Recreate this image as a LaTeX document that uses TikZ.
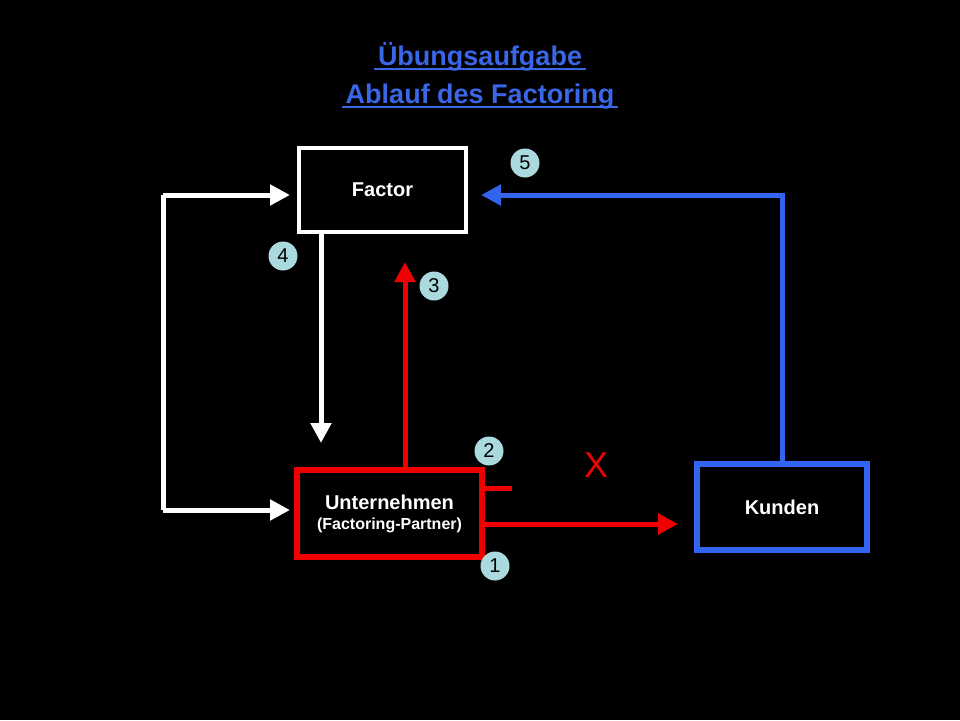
\documentclass[tikz,border=0pt]{standalone}
\usepackage{fontspec}
\setmainfont{Liberation Sans}
\usetikzlibrary{arrows.meta}
\definecolor{titleblue}{RGB}{58,102,232}
\definecolor{lineblue}{RGB}{50,100,240}
\definecolor{markred}{RGB}{240,0,0}
\definecolor{badge}{RGB}{170,218,222}
\tikzset{
  box/.style={draw, minimum width=#1, inner sep=0pt, font=\bfseries\fontsize{20}{22}\selectfont, text=white, align=center},
  flow/.style={line width=5pt, -{Triangle[length=20pt, width=20pt]}},
  heading/.style={text=titleblue, font=\bfseries\fontsize{27}{30}\selectfont},
  num/.style={circle, fill=badge, minimum size=29pt, inner sep=0pt, font=\fontsize{20}{20}\selectfont}
}
\begin{document}
\begin{tikzpicture}[x=1pt,y=-1pt]
  \fill[black] (0,0) rectangle (960,720);
  \useasboundingbox (0,0) rectangle (960,720);
  % title
  \node[heading] (title1) at (480,57) {Übungsaufgabe};
  \node[heading] (title2) at (480,97) {Ablauf des Factoring};
  \draw[titleblue, line width=2pt] ([yshift=-3pt]title1.base west) -- ([yshift=-3pt]title1.base east);
  \draw[titleblue, line width=2pt] ([yshift=-3pt]title2.base west) -- ([yshift=-3pt]title2.base east);
  % boxes
  \node[box=167pt, minimum height=84pt, line width=4pt, white] (factor) at (382.5,190) {\textcolor{white}{Factor}};
  \node[box=185pt, minimum height=87pt, line width=6pt, markred] (firma) at (389.5,513.5)
    {\textcolor{white}{Unternehmen}\\[-2pt]\textcolor{white}{\fontsize{16}{18}\selectfont(Factoring-Partner)}};
  \node[box=170pt, minimum height=86pt, line width=6pt, lineblue] (kunden) at (782,507) {\textcolor{white}{Kunden}};
  % connectors
  \coordinate (f4) at (321,443);
  \coordinate (f3) at (405,262);
  \coordinate (kTop) at (782,195);
  \coordinate (kEnd) at (481,195);
  \coordinate (lTop) at (163,195);
  \coordinate (lBot) at (163,510);
  \coordinate (wTop) at (290,195);
  \coordinate (wBot) at (290,510);
  \coordinate (redStub) at (512,488);
  \draw[flow, white] (factor.south -| f4) -- (f4);
  \draw[flow, markred] (firma.north -| f3) -- (f3);
  \draw[flow, lineblue] (kunden.north) -- (kTop) -- (kEnd);
  \draw[line width=5pt, white] (lTop) -- (lBot);
  \draw[flow, white] (lTop) -- (wTop);
  \draw[flow, white] (lBot) -- (wBot);
  \draw[flow, markred] (firma.east |- 0,524) -- (678,524);
  \draw[line width=5pt, markred] (firma.east |- redStub) -- (redStub);
  \node[text=markred, font=\fontsize{36}{36}\selectfont] (cross) at (596,465) {X};
  % badges
  \node[num] (n5) at (525,163) {5};
  \node[num] (n4) at (283,256) {4};
  \node[num] (n3) at (434,286) {3};
  \node[num] (n2) at (489,451) {2};
  \node[num] (n1) at (495,566) {1};
\end{tikzpicture}
\end{document}
